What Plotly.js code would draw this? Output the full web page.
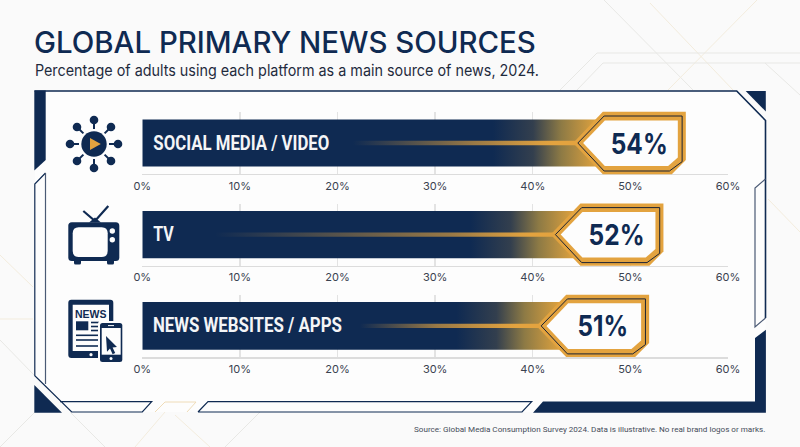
<!DOCTYPE html>
<html><head><meta charset="utf-8">
<script src="https://cdn.plot.ly/plotly-3.0.1.min.js"></script>
<style>html,body{margin:0;padding:0;background:#fafafa;overflow:hidden}</style>
</head><body><div id="chart" style="width:800px;height:447px"></div>
<script>
// ---- data ----
const categories = ["SOCIAL MEDIA / VIDEO", "TV", "NEWS WEBSITES / APPS"];
const shareOfAdults = [54, 52, 51];
const tickValues = [0, 10, 20, 30, 40, 50, 60];
const tickLabels = ["0%", "10%", "20%", "30%", "40%", "50%", "60%"];
const titleText = "GLOBAL PRIMARY NEWS SOURCES";
const subtitleText = "Percentage of adults using each platform as a main source of news, 2024.";
const sourceText = "Source: Global Media Consumption Survey 2024. Data is illustrative. No real brand logos or marks.";

// ---- style & layout ----
const W = 800, H = 447;
const NAVY = "#0f2a52", GOLD = "#e3a33f", INK = "#3a4250", FONT = "Inter, 'Liberation Sans', sans-serif";
const LABEL_FONT = "Roboto, 'Liberation Sans', sans-serif";
const px = x => x / W, py = y => 1 - y / H;
const plotLeft = 142.3, plotRight = 728;
const bands = [[112, 174], [203.5, 265.7], [294.5, 357.3]];
const calloutRight = [16.4, 13.5, 9];     // callout right edge, px beyond the value
const streakStart = [353, 215, 360];      // where the glow line starts, px
const labelWidths = [176, 20.5, 189];     // rendered width of the bar labels, px
const valueWidths = [57, 56, 50.5];       // rendered width of the callout numbers, px
const pxPerUnit = (plotRight - plotLeft) / 60;

const poly = pts => "M" + pts.map(p => px(p[0]) + "," + py(p[1])).join("L") + "Z";
const open = pts => "M" + pts.map(p => px(p[0]) + "," + py(p[1])).join("L");
function rr(x0, y0, x1, y1, r) {
  const P = (x, y) => px(x) + "," + py(y);
  return "M" + P(x0 + r, y0) + "L" + P(x1 - r, y0) + "Q" + P(x1, y0) + " " + P(x1, y0 + r) +
    "L" + P(x1, y1 - r) + "Q" + P(x1, y1) + " " + P(x1 - r, y1) +
    "L" + P(x0 + r, y1) + "Q" + P(x0, y1) + " " + P(x0, y1 - r) +
    "L" + P(x0, y0 + r) + "Q" + P(x0, y0) + " " + P(x0 + r, y0) + "Z";
}
const paper = {xref: "paper", yref: "paper"};
const fillS = (path, color, layer) => ({...paper, type: "path", path, fillcolor: color, line: {width: 0}, layer: layer || "above"});
const lineS = (pts, color, width, layer) => ({...paper, type: "path", path: open(pts), line: {color, width}, layer: layer || "above"});
const circ = (cx, cy, r, color) => ({...paper, type: "circle", x0: px(cx - r), x1: px(cx + r), y0: py(cy + r), y1: py(cy - r), fillcolor: color, line: {width: 0}});

const shapes = [];
const annotations = [];

// faint background lines
const GREY = "#e8e8e5", SAND = "#f3ecdd";
[[[604,0],[693,90],GREY],[[650,3],[733,90],SAND],[[757,0],[668,90],SAND],[[768,199],[800,232],SAND],
 [[0,255],[33,287],SAND],[[0,319],[33,319],SAND],[[0,340],[34,375],GREY],[[35,412],[0,447],GREY],
 [[70,412],[105,447],GREY],[[165,412],[135,447],SAND],[[175,415],[210,447],SAND],[[260,412],[225,447],GREY]]
  .forEach(l => shapes.push(lineS([l[0], l[1]], l[2], 1, "below")));
shapes.push(lineS([[560,90],[597,53],[800,53]], GREY, 1, "below"));
shapes.push(lineS([[577,90],[603,63],[800,63]], GREY, 1, "below"));
shapes.push(lineS([[765,63],[800,95]], GREY, 1, "below"));

// frame
shapes.push(fillS(poly([[35,91],[737,91],[765.5,120.5],[765.5,412],[72,412],[35,376]]), "#fdfdfd", "below"));
shapes.push(lineS([[34.5,91],[736.7,91],[765.5,120.5],[765.5,318]], NAVY, 1.6));
shapes.push(fillS(poly([[34.3,90.5],[45.7,90.5],[45.7,160],[34.3,170.5]]), NAVY));
shapes.push(fillS(poly([[745.7,91],[765.8,91],[765.8,111.5]]), NAVY));
shapes.push(lineS([[765.5,179],[755,188],[755,327],[765.5,318]], "#4b5a75", 1.2));
shapes.push(lineS([[45.5,173],[34.8,184],[34.8,375.7],[71.7,412],[142.3,412],[151.7,401.7],[60,401.7]], NAVY, 1.2));
shapes.push(lineS([[45.5,173],[45.5,384]], "#4b5a75", 1.2));
shapes.push(fillS(poly([[34.3,385],[34.3,412.8],[62,412.8]]), NAVY));
shapes.push(lineS([[155,412],[165,402],[196,402],[187,412]], "#efdcb8", 1));
shapes.push(lineS([[198,412],[208,401.7],[531.7,401.7],[522,412],[198,412]], NAVY, 1.2));
shapes.push(fillS(poly([[533,412.8],[543,401.5],[755,401.5],[755,338],[765.9,329.7],[765.9,412.8]]), NAVY));

// icon 1: social video
const c1 = [94, 144];
[[0,-24],[0,24],[-24,0],[24,0],[-17,-17],[17,-17],[-17,17],[17,17]].forEach(o => {
  const d = Math.hypot(o[0], o[1]), u = [o[0] / d, o[1] / d];
  shapes.push(lineS([[c1[0] + u[0] * 15, c1[1] + u[1] * 15], [c1[0] + o[0], c1[1] + o[1]]], NAVY, 2));
  shapes.push(circ(c1[0] + o[0], c1[1] + o[1], 4.3, NAVY));
});
shapes.push(circ(c1[0], c1[1], 12.7, NAVY));
shapes.push(fillS(poly([[90,138],[90,150],[100.8,144]]), GOLD));

// icon 2: TV
shapes.push(lineS([[83.3,211],[95,221],[108.3,206]], NAVY, 2.2));
shapes.push(fillS(poly([[89,222.6],[95,217.5],[101,222.6]]), NAVY));
shapes.push(fillS(rr(68.3,222.3,119.3,261,3.5), NAVY));
shapes.push(fillS(rr(72.7,227.3,107.7,257,6), "#fdfdfd"));
shapes.push(circ(112.3,231,2.7,"#fdfdfd"));
shapes.push(circ(112.3,239.7,2.7,"#fdfdfd"));
shapes.push(fillS(rr(74,259,81,264.5,1.5), NAVY));
shapes.push(fillS(rr(107,259,114,264.5,1.5), NAVY));

// icon 3: tablet + phone
shapes.push(fillS(rr(68.3,299.7,113.3,358,3), NAVY));
shapes.push(fillS(poly([[72.7,304.7],[109,304.7],[109,351],[72.7,351]]), "#fdfdfd"));
shapes.push(circ(91,354.7,1.6,"#fdfdfd"));
shapes.push(fillS(poly([[76,321.3],[88.3,321.3],[88.3,330.3],[76,330.3]]), NAVY));
[[91,99,322.5],[91,99,326.5],[91,99,330.5],[76,99,335.3],[76,99,340],[76,99,346]].forEach(r =>
  shapes.push(lineS([[r[0],r[2]],[r[1],r[2]]], NAVY, 1.6)));
shapes.push(fillS(rr(98,321,124.3,364,3), "#fdfdfd"));
shapes.push(fillS(rr(100,323,122.3,362,2.5), NAVY));
shapes.push(fillS(poly([[101.7,328],[120.7,328],[120.7,354.7],[101.7,354.7]]), "#fdfdfd"));
shapes.push(lineS([[108,325.6],[114,325.6]], "#fdfdfd", 1));
shapes.push(circ(111,358.5,1.5,"#fdfdfd"));
shapes.push(fillS(poly([[106,336],[117,347],[112.6,347.6],[115.2,353],[112.6,354.2],[110,348.6],[107,351.8]]), NAVY));
annotations.push({...paper, x: px(90.7), y: py(313.6), text: "NEWS", showarrow: false, xanchor: "center", yanchor: "middle",
  font: {family: "'Liberation Sans', sans-serif", size: 10.5, color: NAVY, weight: 700}});

// callouts, positioned from each value on the library's x axis
const hexOuter = R => [[R-112.7,0],[R-83,31.2],[R,31.2],[R,-17],[R-14,-31.2],[R-83,-31.2]];
const hexLine  = R => [[R-108,0],[R-81.7,27],[R-3.7,27],[R-3.7,-18.7],[R-16.4,-28],[R-81.7,-28]];
const hexInner = R => [[R-102.7,0],[R-81,22.6],[R-8,22.6],[R-8,-14.5],[R-17.7,-23],[R-81,-23]];
const rel = pts => "M" + pts.map(p => p[0] + "," + p[1]).join("L") + "Z";

const traces = [];
const fitWidths = {};   // annotation text -> rendered width, px
const ySuffix = i => (i === 0 ? "" : String(i + 1));
categories.forEach((cat, i) => {
  const xa = "x" + ySuffix(i), ya = "y" + ySuffix(i), v = shareOfAdults[i];
  traces.push({type: "bar", orientation: "h", x: [v], y: [cat], width: 0.762, xaxis: xa, yaxis: ya,
    marker: {color: NAVY, line: {width: 0}}, hoverinfo: "skip", showlegend: false});
  traces.push({type: "bar", orientation: "h", x: [v], y: [cat], width: 0.07, xaxis: xa, yaxis: ya,
    marker: {color: GOLD, line: {width: 0}}, hoverinfo: "skip", showlegend: false});
  const R = calloutRight[i];
  const hex = (pts, fill, line) => ({type: "path", xref: xa, yref: ya + " domain", xsizemode: "pixel", ysizemode: "pixel",
    xanchor: v, yanchor: 0.5, path: rel(pts), fillcolor: fill, line: line || {width: 0}, layer: "above"});
  shapes.push(hex(hexOuter(R), GOLD));
  shapes.push(hex(hexLine(R), GOLD, {color: "#1a2233", width: 1}));
  shapes.push(hex(hexInner(R), "#fdfdfd"));
  const vt = v + "%";
  fitWidths[vt] = valueWidths[i];
  annotations.push({xref: xa, yref: ya + " domain", x: v, y: 0.5, xshift: R - 46.7, text: vt, showarrow: false,
    xanchor: "center", yanchor: "middle", font: {family: FONT, size: 28.5, color: NAVY, weight: 700}});
  fitWidths[cat] = labelWidths[i];
  annotations.push({xref: xa, yref: ya + " domain", x: (153 - plotLeft + labelWidths[i] / 2) / pxPerUnit, y: 0.5, text: cat, showarrow: false,
    xanchor: "center", yanchor: "middle", font: {family: LABEL_FONT, size: 19.5, color: "#f4f5f7", weight: 700}});
});

fitWidths[subtitleText] = 504;
annotations.push({...paper, x: px(34.5 + 252), y: py(71), text: subtitleText, showarrow: false, xanchor: "center", yanchor: "middle",
  font: {family: FONT, size: 15.5, color: "#1f2a3d"}});
annotations.push({...paper, x: px(767), y: py(429), text: sourceText, showarrow: false, xanchor: "right", yanchor: "middle",
  font: {family: LABEL_FONT, size: 8.1, color: "#454c59"}});

const layout = {
  width: W, height: H, margin: {l: 0, r: 0, t: 0, b: 0}, autosize: false,
  paper_bgcolor: "#fafafa", plot_bgcolor: "rgba(0,0,0,0)", barmode: "overlay", showlegend: false,
  title: {text: titleText, x: px(34), xref: "paper", xanchor: "left", y: py(42.5), yref: "paper", yanchor: "middle",
    font: {family: FONT, size: 29.4, color: NAVY, weight: 500}, automargin: false},
  shapes, annotations
};
categories.forEach((cat, i) => {
  const s = ySuffix(i);
  layout["xaxis" + s] = {anchor: "y" + s, domain: [px(plotLeft), px(plotRight)], range: [0, 60], tickvals: tickValues, ticktext: tickLabels,
    showgrid: true, gridcolor: "#e3e3e3", gridwidth: 1.4, zeroline: false, showline: true, linecolor: "#dcdcdc", linewidth: 1.4,
    ticks: "", ticklabelstandoff: 1, tickfont: {family: FONT, size: 11, color: INK}, fixedrange: true};
  layout["yaxis" + s] = {anchor: "x" + s, domain: [py(bands[i][1]), py(bands[i][0])], type: "category", range: [-0.5, 0.5],
    visible: false, fixedrange: true};
});

Plotly.newPlot("chart", traces, layout, {displayModeBar: false, staticPlot: true}).then(gd => {
  const NS = "http://www.w3.org/2000/svg";
  const defs = gd.querySelector("svg.main-svg defs");
  const addGrad = (id, stops) => {
    const g = document.createElementNS(NS, "linearGradient");
    g.setAttribute("id", id); g.setAttribute("x1", "0"); g.setAttribute("x2", "1"); g.setAttribute("y1", "0"); g.setAttribute("y2", "0");
    stops.forEach(s => {
      const st = document.createElementNS(NS, "stop");
      st.setAttribute("offset", Math.max(0, Math.min(1, s[0])));
      st.setAttribute("stop-color", s[1]);
      st.setAttribute("stop-opacity", s[2] === undefined ? 1 : s[2]);
      g.appendChild(st);
    });
    defs.appendChild(g);
  };
  const fl = gd._fullLayout;
  const fr = (p, end) => (p - plotLeft) / (end - plotLeft);
  gd.querySelectorAll(".barlayer .trace").forEach(tr => {
    const idx = tr.__data__[0].trace.index, i = Math.floor(idx / 2), v = shareOfAdults[i];
    const ax = fl["xaxis" + ySuffix(i)];
    const end = ax._offset + ax.d2p(v), tip = end + calloutRight[i] - 112.7;
    const id = "grad" + idx;
    if (idx % 2 === 0) {
      addGrad(id, [[0, NAVY], [fr(tip - 80, end), NAVY], [fr(tip - 40, end), "#333f4e"], [fr(tip - 12, end), "#8d7a45"], [fr(tip + 24, end), "#dfa23e"], [1, "#dfa23e"]]);
    } else {
      addGrad(id, [[0, GOLD, 0], [fr(streakStart[i], end), GOLD, 0], [fr(tip - 100, end), GOLD, 0.65], [fr(tip - 20, end), GOLD, 1], [1, GOLD, 1]]);
    }
    tr.querySelectorAll("path").forEach(p => { p.style.fill = "url(#" + id + ")"; });
  });
  // fit condensed text to its measured width
  gd.querySelectorAll(".annotation-text").forEach(t => {
    const w = fitWidths[t.textContent];
    if (w) { t.setAttribute("textLength", w); t.setAttribute("lengthAdjust", "spacingAndGlyphs"); }
  });
});
</script></body></html>
